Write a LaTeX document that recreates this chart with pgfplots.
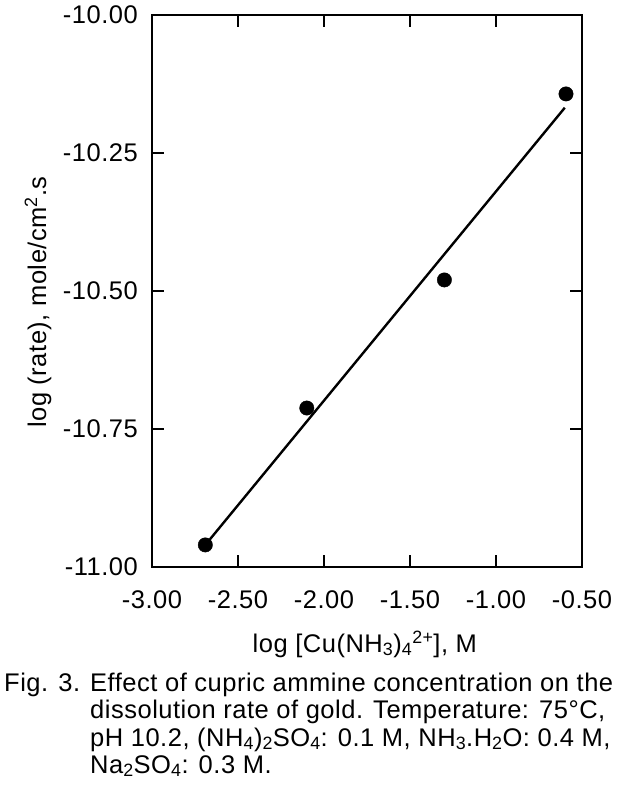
\documentclass[border=0pt]{standalone}
\usepackage{fontspec}
\setmainfont{Liberation Sans}[LetterSpace=2]
\usepackage{pgfplots}
\pgfplotsset{compat=1.18}
\begin{document}
\fontsize{25.5bp}{27bp}\selectfont
\begin{tikzpicture}[font=\fontsize{25.5bp}{27bp}\selectfont]
\useasboundingbox (0,0) rectangle (626bp,785bp);
\begin{axis}[
  at={(152bp,218bp)}, anchor=south west,
  scale only axis, width=430bp, height=552bp,
  xmin=-3, xmax=-0.5, ymin=-11, ymax=-10,
  xtick={-3,-2.5,-2,-1.5,-1,-0.5},
  xticklabels={-3.00,-2.50,-2.00,-1.50,-1.00,-0.50},
  ytick={-11,-10.75,-10.5,-10.25,-10},
  yticklabels={-11.00,-10.75,-10.50,-10.25,-10.00},
  tick align=inside,
  major tick length=12bp,
  axis line style={line width=2bp},
  every tick/.style={black, line width=1.6bp},
  xticklabel style={inner sep=0pt, yshift=-23bp},
  yticklabel style={inner sep=0pt, xshift=-14bp},
  xlabel={log [Cu(NH\textsubscript{3})\textsubscript{4}\textsuperscript{2+}], M},
  xlabel style={at={(axis description cs:0.495,-0.154)}, anchor=base, inner sep=0pt},
  ylabel={log (rate), mole/cm\textsuperscript{2}.s},
  ylabel style={at={(axis description cs:-0.265,0.48)}, anchor=center, rotate=0, inner sep=0pt},
  clip=false,
]
\addplot[only marks, mark=*, mark size=7.2bp, black] coordinates {
  (-2.69,-10.96) (-2.10,-10.712) (-1.30,-10.48) (-0.593,-10.143)
};
\addplot[line width=2.4bp, black] coordinates {
  (-2.69,-10.96) (-0.60,-10.168)
};
\end{axis}
\node[anchor=base west, inner sep=0pt] at (4bp,93bp) {Fig. 3.};
\node[anchor=base west, inner sep=0pt] at (90bp,93bp) {Effect of cupric ammine concentration on the};
\node[anchor=base west, inner sep=0pt] at (90bp,66bp) {dissolution rate of gold. Temperature: 75°C,};
\node[anchor=base west, inner sep=0pt] at (90bp,39bp) {pH 10.2, (NH\textsubscript{4})\textsubscript{2}SO\textsubscript{4}: 0.1 M, NH\textsubscript{3}.H\textsubscript{2}O: 0.4 M,};
\node[anchor=base west, inner sep=0pt] at (90bp,12bp) {Na\textsubscript{2}SO\textsubscript{4}: 0.3 M.};
\end{tikzpicture}
\end{document}
